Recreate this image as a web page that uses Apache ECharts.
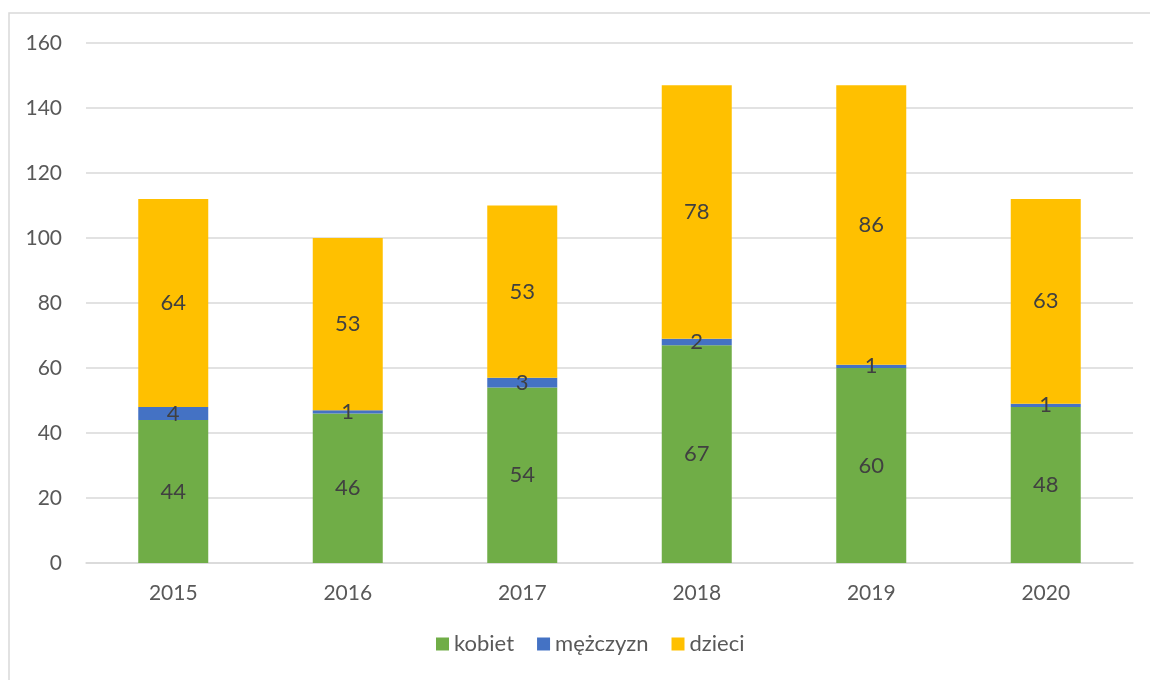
<!DOCTYPE html>
<html><head><meta charset="utf-8">
<script src="https://cdn.jsdelivr.net/npm/echarts@6/dist/echarts.min.js"></script>
<style>html,body{margin:0;padding:0;background:#fff}#c{width:1150px;height:680px}</style>
</head><body><div id="c"></div>
<script>
const categories = ['2015','2016','2017','2018','2019','2020'];
const kobiet = [44, 46, 54, 67, 60, 48];
const mezczyzn = [4, 1, 3, 2, 1, 1];
const dzieci = [64, 53, 53, 78, 86, 63];
const yTicks = [0, 20, 40, 60, 80, 100, 120, 140, 160];

const font = 'Lato, "Open Sans", sans-serif';
const lbl = {show: true, position: 'inside', color: '#404040', fontSize: 22, fontFamily: font};
const chart = echarts.init(document.getElementById('c'));
chart.setOption({
  animation: false,
  graphic: [{type: 'rect', shape: {x: 9, y: 13, width: 1160, height: 700},
    style: {fill: 'none', stroke: '#d9d9d9', lineWidth: 1.5}, silent: true}],
  grid: {left: 86, right: 17, top: 43, bottom: 117, containLabel: false},
  legend: {bottom: 20, left: 431, itemWidth: 13, itemHeight: 13, itemGap: 23,
    icon: 'rect', textStyle: {color: '#595959', fontSize: 22, fontFamily: font}},
  xAxis: {type: 'category', data: categories,
    axisLine: {lineStyle: {color: '#d9d9d9', width: 1.5}}, axisTick: {show: false},
    axisLabel: {color: '#595959', fontSize: 21, fontFamily: font, margin: 20}},
  yAxis: {type: 'value', min: yTicks[0], max: yTicks[yTicks.length-1], interval: 20,
    axisLine: {show: false}, axisTick: {show: false},
    splitLine: {lineStyle: {color: '#d9d9d9', width: 1.5}},
    axisLabel: {color: '#595959', fontSize: 21, fontFamily: font, margin: 24}},
  series: [
    {name: 'kobiet', type: 'bar', stack: 't', data: kobiet, barWidth: 70, itemStyle: {color: '#70AD47'}, label: lbl},
    {name: 'mężczyzn', type: 'bar', stack: 't', data: mezczyzn, barWidth: 70, itemStyle: {color: '#4472C4'}, label: lbl},
    {name: 'dzieci', type: 'bar', stack: 't', data: dzieci, barWidth: 70, itemStyle: {color: '#FFC000'}, label: lbl}
  ]
});
</script></body></html>
